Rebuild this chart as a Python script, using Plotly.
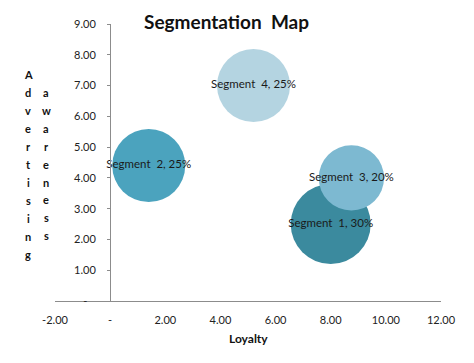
import plotly.graph_objects as go

# ---- data ----
segments = ["Segment  1", "Segment  2", "Segment  3", "Segment  4"]
loyalty = [8.0, 1.4, 8.75, 5.2]
awareness = [2.5, 4.4, 4.0, 7.0]
share_pct = [30, 25, 20, 25]
colors = ["#3B8A9E", "#4BA3BE", "#7DB9D1", "#B4D4E1"]

x_tick_vals = [-2, 0, 2, 4, 6, 8, 10, 12]
x_tick_text = ["-2.00", "-", "2.00", "4.00", "6.00", "8.00", "10.00", "12.00"]
y_tick_vals = [0, 1, 2, 3, 4, 5, 6, 7, 8, 9]
y_tick_text = ["-\u00a0\u00a0\u00a0"] + ["%.2f" % v for v in range(1, 10)]

title_text = "Segmentation  Map"
x_title = "Loyalty"
y_title_col1 = "Advertising"
y_title_col2 = "awareness"

# page body has an 8px margin; positions below are screen pixels
OFF = 8
W, H = 474 - OFF, 363 - OFF
PL, PR, PT, PB = 55, 441, 17, 301   # plot area in screen px
L, R, T, B = PL - OFF, W - (PR - OFF), PT - OFF, H - (PB - OFF)
PW, PH = PR - PL, PB - PT


def px_x(px):
    return (px - PL) / PW


def px_y(py):
    return (PB - py) / PH


FONT = "Lato, Open Sans, sans-serif"

labels = ["%s, %d%%" % (s, p) for s, p in zip(segments, share_pct)]

fig = go.Figure()
for i in range(len(segments)):
    fig.add_trace(go.Scatter(
        x=[loyalty[i]], y=[awareness[i]],
        mode="markers",
        marker=dict(size=[share_pct[i]], sizemode="area", sizeref=2 * 30 / 80 ** 2,
                    color=colors[i], line=dict(width=0), opacity=1),
        showlegend=False,
        hoverinfo="skip",
    ))
fig.add_trace(go.Scatter(
    x=loyalty, y=awareness, mode="text", text=labels,
    textposition="middle center",
    textfont=dict(family=FONT, size=11.5, color="#1a1a1a"),
    showlegend=False, hoverinfo="skip",
))

fig.update_layout(
    width=W, height=H,
    margin=dict(l=L, r=R, t=T, b=B),
    paper_bgcolor="white", plot_bgcolor="white",
    font=dict(family=FONT, size=11, color="#222"),
    xaxis=dict(range=[-2, 12], tickvals=x_tick_vals, ticktext=x_tick_text,
               showgrid=False, zeroline=True, zerolinecolor="#8c8c8c", zerolinewidth=1,
               showline=True, linecolor="#8c8c8c", linewidth=1, ticks="",
               ticklabelstandoff=9, tickfont=dict(size=11, color="#222")),
    yaxis=dict(range=[0, 9], tickvals=y_tick_vals, ticktext=y_tick_text,
               anchor="free", position=px_x(110),
               showgrid=False, zeroline=False, showline=True, linecolor="#8c8c8c",
               linewidth=1, ticks="outside", ticklen=3, tickcolor="#8c8c8c",
               ticklabelstandoff=9, tickfont=dict(size=11, color="#222")),
    hovermode=False,
)

annotations = [
    dict(text="<b>%s</b>" % title_text, x=px_x(226), y=px_y(14), xref="paper", yref="paper",
         showarrow=False, font=dict(size=19, color="#111"), xanchor="center", yanchor="middle"),
    dict(text="<b>%s</b>" % x_title, x=px_x(248), y=px_y(339), xref="paper", yref="paper",
         showarrow=False, font=dict(size=12, color="#111"), xanchor="center", yanchor="middle"),
]
for j, ch in enumerate(y_title_col1):
    annotations.append(dict(text="<b>%s</b>" % ch, x=px_x(28), y=px_y(69 + j * 18.4),
                            xref="paper", yref="paper", showarrow=False,
                            font=dict(size=11, color="#111"), xanchor="center", yanchor="middle"))
for j, ch in enumerate(y_title_col2):
    annotations.append(dict(text="<b>%s</b>" % ch, x=px_x(46), y=px_y(87 + j * 18.4),
                            xref="paper", yref="paper", showarrow=False,
                            font=dict(size=11, color="#111"), xanchor="center", yanchor="middle"))
fig.update_layout(annotations=annotations)

fig.write_html("out.html")
